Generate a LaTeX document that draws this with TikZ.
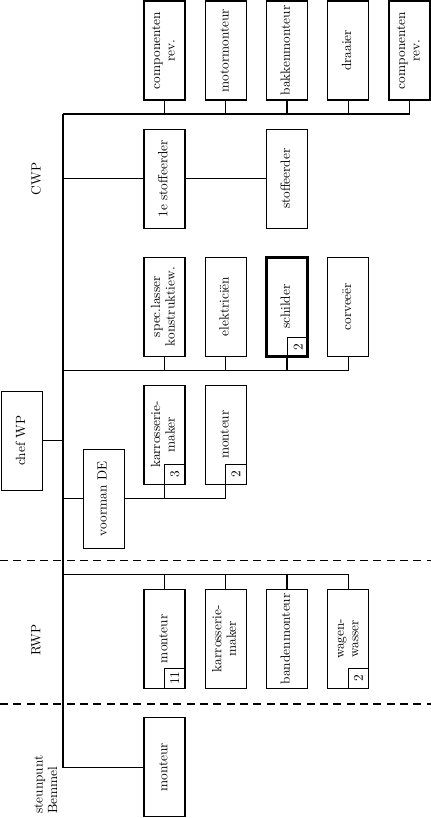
\documentclass[tikz,border=0pt]{standalone}
\usepackage{graphicx}
\usepackage{tikz}
\usetikzlibrary{positioning}

% rotated (bottom-to-top) text, one or more lines
\newcommand{\vtxt}[1]{\rotatebox{90}{\begin{tabular}{@{}c@{}}#1\end{tabular}}}
\renewcommand{\arraystretch}{0.9}

\begin{document}
\begin{tikzpicture}[
  x=0.75pt, y=-0.75pt,
  every node/.style={font=\normalsize},
  box/.style={rectangle, draw, line width=0.8pt, minimum width=30.75pt,
              minimum height=74.25pt, inner sep=0pt, align=center},
  tag/.style={rectangle, draw, line width=0.8pt, minimum width=15.4pt,
              minimum height=15pt, inner sep=0pt, anchor=south east},
  lbl/.style={inner sep=0pt},
  link/.style={line width=0.8pt},
  sep/.style={line width=0.8pt, dash pattern=on 6pt off 4pt}
]
  \useasboundingbox (0,0) rectangle (431,818);

  % CWP, top row
  \node[box] (comp1)  at (164.5, 50.5) {\vtxt{componenten\\rev.}};
  \node[box] (motor)  at (225.7, 50.5) {\vtxt{motormonteur}};
  \node[box] (bakken) at (287.0, 50.5) {\vtxt{bakkenmonteur}};
  \node[box] (draai)  at (348.2, 50.5) {\vtxt{draaier}};
  \node[box] (comp2)  at (409.5, 50.5) {\vtxt{componenten\\rev.}};

  % stoffeerders
  \node[box] (stof1) at (164.5,178.7) {\vtxt{1e stoffeerder}};
  \node[box] (stof2) at (287.0,178.7) {\vtxt{stoffeerder}};

  % CWP, third row
  \node[box] (laser)    at (164.5,306.7) {\vtxt{spec.lasser\\konstruktiew.}};
  \node[box] (elek)     at (225.7,306.7) {\vtxt{elektriciën}};
  \node[box, line width=2.2pt] (schilder) at (287.0,306.7) {\vtxt{schilder}};
  \node[box] (corvee)   at (348.2,306.7) {\vtxt{corveeër}};
  \node[tag] (schilder_n) at (schilder.south east) {\rotatebox{90}{2}};

  % voorman DE and his group
  \node[box] (karr) at (164.5,434.7) {\vtxt{karrosserie-\\maker}};
  \node[box] (mont) at (225.7,434.7) {\vtxt{monteur}};
  \node[tag] (karr_n) at (karr.south east) {\rotatebox{90}{3}};
  \node[tag] (mont_n) at (mont.south east) {\rotatebox{90}{2}};
  \node[box] (chef)    at (22.2,440.7)  {\vtxt{chef WP}};
  \node[box] (voorman) at (103.8,498.8) {\vtxt{voorman DE}};

  % RWP
  \node[box] (rmont)  at (164.5,638.8) {\vtxt{monteur}};
  \node[box] (rkarr)  at (225.7,638.8) {\vtxt{karrosserie-\\maker}};
  \node[box] (banden) at (287.0,638.8) {\vtxt{bandenmonteur}};
  \node[box] (wasser) at (348.2,638.8) {\vtxt{wagen-\\wasser}};
  \node[tag] (rmont_n)  at (rmont.south east)  {\rotatebox{90}{11}};
  \node[tag] (wasser_n) at (wasser.south east) {\rotatebox{90}{2}};

  % steunpunt
  \node[box] (smont) at (164.5,767.2) {\vtxt{monteur}};

  % section labels
  \node[lbl] (cwp) at (36,179) {\rotatebox{90}{CWP}};
  \node[lbl] (rwp) at (36,640) {\rotatebox{90}{RWP}};
  \node[lbl, anchor=south] (bemmel) at (47,814)
    {\rotatebox{90}{\begin{tabular}{@{}l@{}}steunpunt\\Bemmel\end{tabular}}};

  % trunk and buses
  \coordinate (trunk) at (63,114);
  \coordinate (bus_cwp) at (63,370.7);
  \coordinate (bus_rwp) at (63,574.7);

  \draw[link] (trunk) -- (smont.west -| trunk) -- (smont.west);
  \draw[link] (trunk) -| (comp2.south);
  \foreach \n in {comp1,motor,bakken,draai}
    \draw[link] (\n.south) -- (\n.south |- trunk);

  \draw[link] (stof1.west -| trunk) -- (stof1.west);
  \draw[link] (stof1.east) -- (stof2.west);

  \draw[link] (bus_cwp) -| (corvee.south);
  \foreach \n in {laser,elek,schilder}
    \draw[link] (\n.south) -- (\n.south |- bus_cwp);

  \draw[link] (chef.east) -- (chef.east -| trunk);
  \draw[link] (voorman.west -| trunk) -- (voorman.west);
  \draw[link] (voorman.east) -| (mont.south);
  \draw[link] (karr.south) -- (karr.south |- voorman.east);

  \draw[link] (bus_rwp) -| (wasser.north);
  \foreach \n in {rmont,rkarr,banden}
    \draw[link] (\n.north) -- (\n.north |- bus_rwp);

  % section borders
  \draw[sep] (0,560.7) -- (431,560.7);
  \draw[sep] (0,704) -- (431,704);
\end{tikzpicture}
\end{document}
